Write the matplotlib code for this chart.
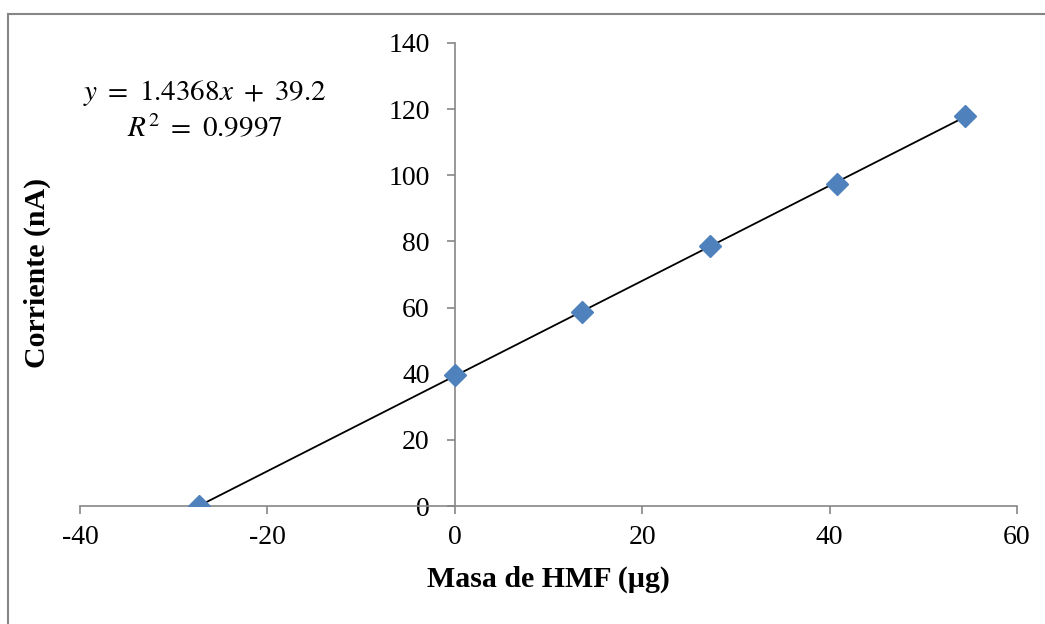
import matplotlib
matplotlib.use("Agg")
import matplotlib.pyplot as plt
from matplotlib.lines import Line2D
import numpy as np

plt.rcParams.update({
    "font.family": ["Liberation Serif", "DejaVu Serif"],
    "mathtext.fontset": "stix",
    "axes.unicode_minus": False,
})

# ---------------------------------------------------------------------------
# Data
# ---------------------------------------------------------------------------
masa_hmf = [-27.3, 0.0, 13.6, 27.2, 40.8, 54.4]       # µg
corriente = [0.0, 39.7, 58.6, 78.5, 97.5, 118.0]     # nA

x_ticks = [-40, -20, 0, 20, 40, 60]
y_ticks = [0, 20, 40, 60, 80, 100, 120, 140]

eq_line1 = r"$y\ =\ 1.4368x\ +\ 39.2$"
eq_line2 = r"$R^2\ =\ 0.9997$"

AXIS_COLOR = "#868686"
MARKER_COLOR = "#4F81BD"

# ---------------------------------------------------------------------------
# Plot
# ---------------------------------------------------------------------------
fig = plt.figure(figsize=(10.45, 6.24), dpi=100)
ax = fig.add_axes([80 / 1045, 1 - 506 / 624, 937 / 1045, 463 / 624])

# linear trend line over data range
coef = np.polyfit(masa_hmf, corriente, 1)
xs = np.array([min(masa_hmf), max(masa_hmf)])
ax.plot(xs, np.polyval(coef, xs), color="black", lw=1.3, zorder=2)

ax.plot(masa_hmf, corriente, linestyle="none", marker="D", markersize=11.5,
        color=MARKER_COLOR, zorder=3)

ax.set_xlim(-40, 60)
ax.set_ylim(0, 140)
ax.set_xticks(x_ticks)
ax.set_yticks(y_ticks)

# Excel-style axes crossing at zero
ax.spines[["top", "right"]].set_visible(False)
ax.spines["left"].set_position(("data", 0))
ax.spines["bottom"].set_position(("data", 0))
for s in ("left", "bottom"):
    ax.spines[s].set_color(AXIS_COLOR)
    ax.spines[s].set_linewidth(1.2)

ax.tick_params(axis="both", colors=AXIS_COLOR, direction="out", length=6,
               width=1.2, labelsize=20, labelcolor="black")
ax.tick_params(axis="y", pad=12)
ax.tick_params(axis="x", pad=8)

ax.set_xlabel("Masa de HMF (µg)", fontsize=21.5, fontweight="bold")
ax.set_ylabel("Corriente (nA)", fontsize=21.5, fontweight="bold")
ax.xaxis.set_label_coords((548 - 80) / 937, (506 - 566) / 463)
ax.yaxis.set_label_coords((51 - 80) / 937, (506 - 273) / 463)

ax.text((205 - 80) / 937, (506 - 93) / 463, eq_line1, transform=ax.transAxes,
        ha="center", va="center", fontsize=21)
ax.text((205 - 80) / 937, (506 - 129) / 463, eq_line2, transform=ax.transAxes,
        ha="center", va="center", fontsize=21)

# chart-area border (top and left edges visible)
fig.add_artist(Line2D([7.5 / 1045, 1], [1 - 13.5 / 624] * 2,
                      transform=fig.transFigure, color=AXIS_COLOR, lw=1.5))
fig.add_artist(Line2D([7.5 / 1045] * 2, [0, 1 - 13.5 / 624],
                      transform=fig.transFigure, color=AXIS_COLOR, lw=1.5))

fig.savefig("out.png", dpi=100)
